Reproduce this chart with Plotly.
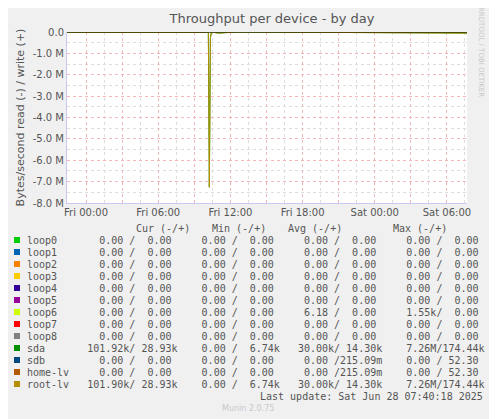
import plotly.graph_objects as go

# throughput samples (bytes/s), read plotted negative
times = ["2025-06-26 22:25", "2025-06-27 04:00", "2025-06-27 10:00", "2025-06-27 10:10",
         "2025-06-27 10:15", "2025-06-27 10:20", "2025-06-27 10:25", "2025-06-27 11:00",
         "2025-06-27 12:30", "2025-06-27 20:00", "2025-06-27 23:10", "2025-06-28 00:05",
         "2025-06-28 07:35", "2025-06-28 07:40"]
sda_read = [0, 0, 0, 0, -7.26e6, -0.3e6, 0, -0.05e6, 0, 0, -0.02e6, -0.03e6, -0.05e6, -0.1e6]
sda_write = [0, 0, 0, 0.17e6, 0, 0, 0, 0, 0.17e6, 0, 0, 0, 0, 0]

labels = ["loop0", "loop1", "loop2", "loop3", "loop4", "loop5", "loop6", "loop7", "loop8",
          "sda", "sdb", "home-lv", "root-lv"]
colors = ["#00CC00", "#0066B3", "#FF8000", "#FFCC00", "#330099", "#990099", "#CCFF00",
          "#FF0000", "#808080", "#008F00", "#00487D", "#B35A00", "#B38F00"]
cur = ["  0.00 /  0.00 "] * 9 + ["101.92k/ 28.93k", "  0.00 /  0.00 ", "  0.00 /  0.00 ", "101.90k/ 28.93k"]
mins = ["  0.00 /  0.00 "] * 9 + ["  0.00 /  6.74k", "  0.00 /  0.00 ", "  0.00 /  0.00 ", "  0.00 /  6.74k"]
avgs = ["  0.00 /  0.00 "] * 6 + ["  6.18 /  0.00 ", "  0.00 /  0.00 ", "  0.00 /  0.00 ",
        " 30.00k/ 14.30k", "  0.00 /215.09m", "  0.00 /215.09m", " 30.00k/ 14.30k"]
maxs = ["  0.00 /  0.00 "] * 6 + ["  1.55k/  0.00 ", "  0.00 /  0.00 ", "  0.00 /  0.00 ",
        "  7.26M/174.44k", "  0.00 / 52.30 ", "  0.00 / 52.30 ", "  7.26M/174.44k"]

OFF = 8  # page body margin
W, H = 497 - OFF, 419 - OFF
L, R, T, B = 67, 467, 32, 203

def px(x):
    return (x - L) / (R - L)

def py(y):
    return (B - y) / (B - T)

fig = go.Figure()
for name, col in [("sda", "#008F00"), ("root-lv", "#B38F00")]:
    fig.add_trace(go.Scatter(x=times, y=sda_read, mode="lines", line=dict(color=col, width=1),
                             showlegend=False, name=name))
    fig.add_trace(go.Scatter(x=times, y=sda_write, mode="lines", line=dict(color=col, width=1),
                             showlegend=False, name=name))
fig.add_trace(go.Scatter(x=[times[0], times[-1]], y=[0, 0], mode="lines",
                         line=dict(color="black", width=1), showlegend=False))

xt = ["2025-06-27 00:00", "2025-06-27 03:00", "2025-06-27 06:00", "2025-06-27 09:00",
      "2025-06-27 12:00", "2025-06-27 15:00", "2025-06-27 18:00", "2025-06-27 21:00",
      "2025-06-28 00:00", "2025-06-28 03:00", "2025-06-28 06:00"]
xl = ["Fri 00:00", "", "Fri 06:00", "", "Fri 12:00", "", "Fri 18:00", "", "Sat 00:00", "", "Sat 06:00"]
yt = [0, -1e6, -2e6, -3e6, -4e6, -5e6, -6e6, -7e6, -8e6]
yl = ["0.0", "-1.0 M", "-2.0 M", "-3.0 M", "-4.0 M", "-5.0 M", "-6.0 M", "-7.0 M", "-8.0 M"]

tf = dict(family="DejaVu Sans", size=10, color="#555555")
fig.update_layout(
    width=W, height=H,
    margin=dict(l=L - OFF, r=497 - R, t=T - OFF, b=419 - B, autoexpand=False),
    paper_bgcolor="#F0F0F0", plot_bgcolor="white",
    title=dict(text="Throughput per device - by day", x=px(272), xanchor="center", xref="paper",
               y=1 - (18 - OFF) / H, yanchor="middle",
               font=dict(family="DejaVu Sans", size=13, color="#555555")),
    xaxis=dict(range=["2025-06-26 22:25", "2025-06-28 07:40"], tickvals=xt, ticktext=xl,
               tickfont=tf, showgrid=True, gridcolor="#F4B8B8", griddash="dot", gridwidth=1,
               minor=dict(dtick=5400000, showgrid=True, gridcolor="#DDDDDD", griddash="dot"),
               showline=True, linecolor="#C8C8F0", zeroline=False, ticks=""),
    yaxis=dict(range=[-8e6, 0], tickvals=yt, ticktext=yl, tickfont=tf, showgrid=True,
               gridcolor="#F4B8B8", griddash="dot",
               minor=dict(dtick=5e5, showgrid=True, gridcolor="#DDDDDD", griddash="dot"),
               showline=True, linecolor="#C8C8F0", zeroline=False, ticks="",
               title=dict(text="Bytes/second read (-) / write (+)",
                          font=dict(family="DejaVu Sans", size=11, color="#555555"), standoff=5)),
)

mono = dict(family="DejaVu Sans Mono", size=10, color="#555555")
ann = []
ann.append(dict(x=px(487), y=py(52), text="RRDTOOL / TOBI OETIKER", textangle=90, showarrow=False,
                font=dict(family="DejaVu Sans", size=7, color="#C8C8C8")))
for hx, ht in [(134, "Cur (-/+)"), (239, "Min (-/+)"), (344, "Avg (-/+)"), (449, "Max (-/+)")]:
    ann.append(dict(x=px(hx), y=py(228), text=ht.replace(" ", "&nbsp;"), showarrow=False, font=mono))
shapes = []
for i, lab in enumerate(labels):
    yy = 240 + i * 12
    row = lab.ljust(10) + "  ".join([cur[i], mins[i], avgs[i], maxs[i]])
    ann.append(dict(x=px(25), y=py(yy), xanchor="left", text=row.replace(" ", "&nbsp;"),
                    showarrow=False, font=mono))
    shapes.append(dict(type="rect", xref="paper", yref="paper", x0=px(14), x1=px(20),
                       y0=py(yy + 3), y1=py(yy - 3), fillcolor=colors[i], line=dict(width=0)))
ann.append(dict(x=px(485), y=py(396), xanchor="right", showarrow=False, font=mono,
                text="Last&nbsp;update:&nbsp;Sat&nbsp;Jun&nbsp;28&nbsp;07:40:18&nbsp;2025"))
ann.append(dict(x=px(248), y=py(408), showarrow=False, text="Munin 2.0.75",
                font=dict(family="DejaVu Sans", size=8, color="#C8C8C8")))
for a in ann:
    a.setdefault("xref", "paper")
    a.setdefault("yref", "paper")
    a.setdefault("yanchor", "middle")
fig.update_layout(annotations=ann, shapes=shapes)

fig.write_html("out.html")
